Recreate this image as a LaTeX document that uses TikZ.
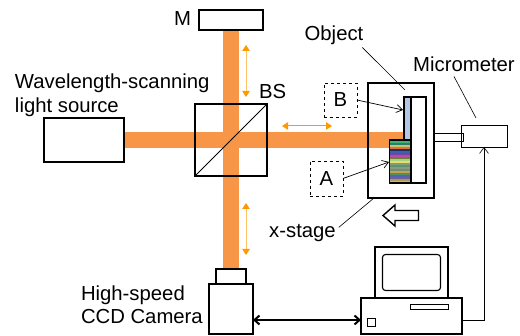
\documentclass[tikz,border=0pt]{standalone}
\usepackage{xcolor}
\usepackage{fontspec}
\setmainfont{Liberation Sans}
\usetikzlibrary{arrows.meta,positioning,backgrounds}
\definecolor{beamorange}{HTML}{F79646}
\definecolor{tiporange}{HTML}{FF9900}
\definecolor{bluestrip}{HTML}{B4C7E7}
\begin{document}
\begin{tikzpicture}[
    x=1pt, y=-1pt,
    every node/.style={inner sep=0pt, outer sep=0pt},
    box/.style={draw, line width=2pt, minimum width=#1},
    caption/.style={font=\fontsize{20.3}{24}\selectfont, align=left},
    tag/.style={draw, dashed, line width=0.6pt, fill=white, minimum width=33pt, font=\fontsize{20.3}{24}\selectfont},
    thin box/.style={draw, line width=0.8pt, fill=white},
    beam/.style={draw=beamorange, line width=16pt},
    shift arrow/.style={{Triangle[length=6pt,width=7.5pt,color=tiporange]}-{Triangle[length=6pt,width=7.5pt,color=tiporange]}, draw=#1, line width=1pt},
    leader/.style={line width=0.6pt},
    pointer/.style={-{Straight Barb[length=6pt,width=8pt]}, line width=0.7pt},
    link/.style={{Straight Barb[length=5pt,width=9pt]}-{Straight Barb[length=5pt,width=9pt]}, line width=2pt}
  ]
    \useasboundingbox (0,0) rectangle (520,336);
    % interferometer
    \node[box=80pt, minimum height=44pt] (source) at (84,140) {};
    \node[box=72pt, minimum height=72pt] (bs) at (231,140) {};
    \node[box=64pt, minimum height=20pt, line width=1.5pt] (mirror) at (231,20) {};
    \node[box=44pt, minimum height=50pt] (camera) at (231,309) {};
    \node[box=30pt, minimum height=15pt, above=0pt of camera, line width=1.5pt] (lens) {};
    \draw[line width=0.8pt] (bs.south west) -- (bs.north east);
    % object on the stage
    \node[box=66pt, minimum height=115pt, line width=2.2pt] (stage) at (401,140.5) {};
    \node[thin box, line width=1.2pt, minimum width=15pt, minimum height=86pt] (holder) at (418.5,140) {};
    \node[draw, line width=1.2pt, fill=bluestrip, minimum width=7pt, minimum height=43pt] (stripb) at (407.5,118.5) {};
    \node[draw, line width=1.2pt, fill=white, minimum width=21pt, minimum height=43pt] (stripa) at (400,161.5) {};
    \foreach \col [count=\k from 0] in {
        3CB371, 2E7D6B, C9C46A, E0703A, 20305F, 3E5FB0, 7A3FA0, B04FA0,
        6E7F3C, A8D080, E6DC70, 7F9F70, 5F8F7A, 8A9A80, 6F8F6F, C9A050,
        4F8F60, 5A60B0, 6A5FA0, B09A50, C8B878} {
      \definecolor{stripecol}{HTML}{\col}
      \fill[stripecol] ([xshift=0.6pt,yshift={-0.6pt-2*\k*1pt}]stripa.north west) rectangle ++(19.8pt,-2pt);
    }
    \node[draw, line width=1.2pt, minimum width=21pt, minimum height=43pt] (stripaframe) at (stripa) {};
    \node[tag, minimum height=34pt] (b) at (340.5,100) {B};
    \node[tag, minimum height=35pt] (a) at (326.5,178.5) {A};
    \node[thin box, minimum width=46pt, minimum height=22pt] (micro) at (484,136) {};
    \node[draw, line width=0.7pt, minimum width=29pt, minimum height=8pt, anchor=west] (rod) at (stage.east |- 0,137) {};
    \draw[fill=white, line width=1.4pt] (383,215.5) -- (395,205) -- (395,210.5) -- (418.5,210.5) -- (418.5,220.5) -- (395,220.5) -- (395,226) -- cycle;
    % computer
    \node[box=101pt, minimum height=36pt, line width=1.1pt] (base) at (411.5,316) {};
    \node[box=73pt, minimum height=51pt, above=0pt of base, line width=1.1pt] (monitor) {};
    \node[draw, rounded corners=3pt, line width=1.1pt, minimum width=58pt, minimum height=36pt] (screen) at (monitor) {};
    \node[draw, line width=1pt, minimum width=38pt, minimum height=5pt] (slot) at (429,307.5) {};
    \node[draw, line width=1pt, minimum width=8pt, minimum height=8pt] (button) at (371,323) {};
    % labels
    \node[caption, anchor=base west] (sourcelabel) at (15,89) {Wavelength-scanning};
    \node[caption, anchor=base west] (sourcelabel2) at (15,113) {light source};
    \node[caption, anchor=east] (mlabel) at (191,19) {M};
    \node[caption, anchor=west] (bslabel) at (259,92) {BS};
    \node[caption] (objectlabel) at (334,35) {Object};
    \node[caption] (microlabel) at (464,64) {Micrometer};
    \node[caption] (stagelabel) at (302.5,233) {x-stage};
    \node[caption, anchor=base west] (cameralabel) at (81,301) {High-speed};
    \node[caption, anchor=base west] (cameralabel2) at (81,324) {CCD Camera};
    % connectors
    \coordinate (objectend) at (405,90);
    \coordinate (microend) at (476,118);
    \coordinate (beamend) at (404,140);
    \coordinate (btip) at (403,110);
    \coordinate (atip) at (389,162);
    \draw[leader] (objectlabel.south east) ++(-1,3) -- (objectend);
    \draw[leader] (microlabel.south) ++(-10,5) -- (microend);
    \draw[leader] (stagelabel.north east) ++(3,3) -- (stage.south west -| 374,0);
    \draw[pointer] (b.east) -- (btip);
    \draw[pointer] (a.east) -- (atip);
    \draw[link] (camera.east |- 0,320) -- (base.west |- 0,320);
    \draw[-{Straight Barb[length=6pt,width=9pt]}, line width=0.6pt] (base.east |- 0,320) -| (micro.south);
    \draw[shift arrow=tiporange!60] (246,45) -- (246,97);
    \draw[shift arrow=tiporange] (282,126) -- (332,126);
    \draw[shift arrow=tiporange!60] (246,203) -- (246,255);
    \begin{pgfonlayer}{background}
      \draw[beam] (source.east |- bs) -- (beamend);
      \draw[beam] (mirror.south) -- (lens.north);
    \end{pgfonlayer}
  \end{tikzpicture}
\end{document}
